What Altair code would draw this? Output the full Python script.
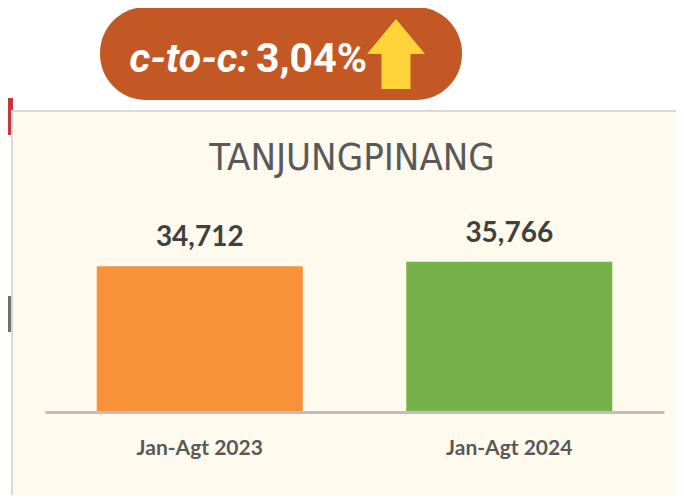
import altair as alt
import pandas as pd

# ---- data ----
periods = ["Jan-Agt 2023", "Jan-Agt 2024"]
values = [34712, 35766]
bar_colors = ["#F79239", "#76B14A"]
region = "TANJUNGPINANG"
growth_label = "c-to-c:"
growth_value = "3,04%"

NARROW = "'DejaVu Sans Condensed', Roboto, sans-serif"

df = pd.DataFrame({"period": periods, "value": values, "color": bar_colors})
one = pd.DataFrame({"k": [0]})
base = alt.Chart(one)

# cropped slide ornaments at the far left edge
red_bit = base.mark_rect(color="#C9363A").encode(
    x=alt.value(-37), x2=alt.value(-32), y=alt.value(-146), y2=alt.value(-109)
)
grey_bit = base.mark_rect(color="#707070").encode(
    x=alt.value(-37), x2=alt.value(-32), y=alt.value(52), y2=alt.value(88)
)
panel = base.mark_rect(fill="#FFFAEE", stroke="#D9D9D9", strokeWidth=2).encode(
    x=alt.value(-33), x2=alt.value(700), y=alt.value(-133), y2=alt.value(400)
)
pill = base.mark_rect(color="#C45824", cornerRadius=46).encode(
    x=alt.value(55), x2=alt.value(417), y=alt.value(-237), y2=alt.value(-144)
)
ctoc = base.mark_text(
    text=growth_label, font="Roboto", fontStyle="italic",
    fontWeight="bold", fontSize=41, color="white", align="right", baseline="alphabetic"
).encode(x=alt.value(204), y=alt.value(-172))
pct = base.mark_text(
    text=growth_value, font="Roboto",
    fontWeight="bold", fontSize=41, color="white", align="left", baseline="alphabetic"
).encode(x=alt.value(211), y=alt.value(-172))
arrow = base.mark_point(
    shape="M0,-1L0.829,0L0.414,0L0.414,1L-0.414,1L-0.414,0L-0.829,0Z",
    size=4900, filled=True, fill="#FFD43B", opacity=1, strokeWidth=0
).encode(x=alt.value(351), y=alt.value(-190))
title = base.mark_text(
    text=region, font=NARROW, fontSize=38, color="#595959",
    align="center", baseline="alphabetic"
).encode(x=alt.value(307), y=alt.value(-74))

xenc = alt.X(
    "period:N", sort=periods,
    scale=alt.Scale(paddingInner=0, paddingOuter=0),
    axis=alt.Axis(
        title=None, labelAngle=0, ticks=False, grid=False,
        domainColor="#BFBFBF", domainWidth=3,
        labelFont="Lato", labelFontWeight="bold", labelFontSize=21,
        labelColor="#595959", labelPadding=25, zindex=1,
    ),
)
yenc = alt.Y("value:Q", scale=alt.Scale(domain=[0, 40000]), axis=None)

bars = alt.Chart(df).mark_bar(size=206).encode(
    x=xenc, y=yenc, color=alt.Color("color:N", scale=None)
)
labels = alt.Chart(df).mark_text(
    dy=-20, baseline="alphabetic", font="Lato", fontWeight="bold",
    fontSize=28, color="#404040"
).encode(x=xenc, y=yenc, text=alt.Text("value:Q", format=","))

chart = alt.layer(red_bit, grey_bit, panel, pill, ctoc, pct, arrow, title, bars, labels).properties(
    width=619, height=168,
    padding={"left": 37, "top": 236, "right": 12, "bottom": 83},
    autosize=alt.AutoSizeParams(type="none"),
    background="white",
).configure_view(stroke=None)

chart.save("out.html", embed_options={"renderer": "svg", "actions": False})
